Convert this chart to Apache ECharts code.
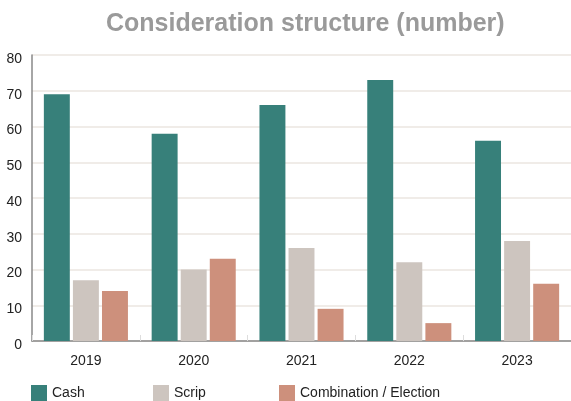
<!DOCTYPE html>
<html><head><meta charset="utf-8">
<script src="https://cdn.jsdelivr.net/npm/echarts@6/dist/echarts.min.js"></script>
<style>html,body{margin:0;padding:0;background:#fff}#c{width:571px;height:401px}</style>
</head><body><div id="c"></div>
<script>
const categories = ['2019','2020','2021','2022','2023'];
const cash = [69, 58, 66, 73, 56];
const scrip = [17, 20, 26, 22, 28];
const combination = [14, 23, 9, 5, 16];
const yTicks = [0,10,20,30,40,50,60,70,80];

const chart = echarts.init(document.getElementById('c'));
const font = 'Liberation Sans, Arial, sans-serif';
function lg(name, left){
  return {data:[name], left:left, top:385, itemWidth:16, itemHeight:16, icon:'rect',
    textStyle:{fontSize:14, color:'#222', fontFamily:font}, selectedMode:false, padding:0};
}
chart.setOption({
  animation:false,
  title:{text:'Consideration structure (number)', left:101, top:7,
    textStyle:{fontSize:25, fontWeight:'bold', color:'#9a9a9a', fontFamily:font}},
  legend:[lg('Cash',31), lg('Scrip',153), lg('Combination / Election',279)],
  grid:{left:32, right:0, top:55, bottom:60, containLabel:false},
  xAxis:{type:'category', data:categories,
    axisLine:{lineStyle:{color:'#888', width:1.5}},
    axisTick:{show:true, inside:true, length:6, lineStyle:{color:'#ddd'}},
    axisLabel:{fontSize:14, color:'#222', margin:13, fontFamily:font}},
  yAxis:{type:'value', min:yTicks[0], max:yTicks[yTicks.length-1], interval:10,
    axisLine:{show:true, lineStyle:{color:'#888', width:1.5}},
    axisTick:{show:false},
    axisLabel:{fontSize:14, color:'#222', margin:10, fontFamily:font, verticalAlign:'top', lineHeight:8},
    splitLine:{lineStyle:{color:'#ebe6e1', width:1.5}}},
  series:[
    {name:'Cash', type:'bar', data:cash, itemStyle:{color:'#37807a'}, barGap:'12%', barCategoryGap:'22%'},
    {name:'Scrip', type:'bar', data:scrip, itemStyle:{color:'#cdc5bf'}},
    {name:'Combination / Election', type:'bar', data:combination, itemStyle:{color:'#cd907c'}}
  ]
});
</script></body></html>
